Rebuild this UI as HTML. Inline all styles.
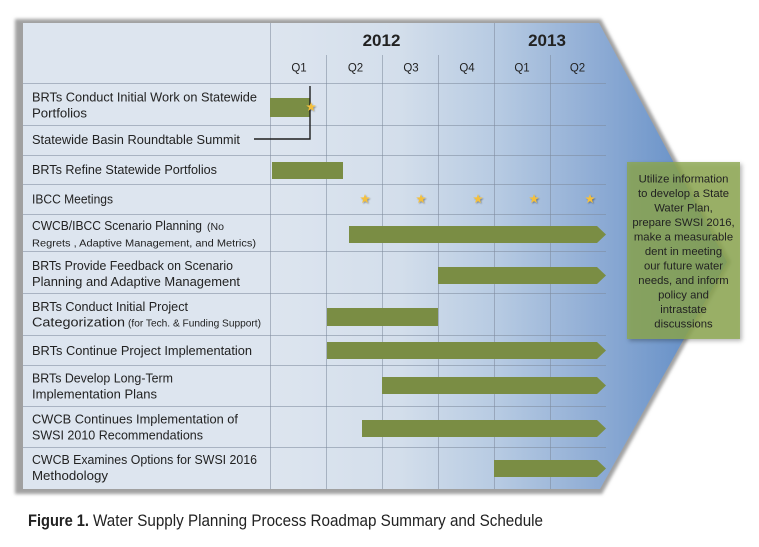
<!DOCTYPE html>
<html><head><meta charset="utf-8"><style>
html,body{margin:0;padding:0;background:#fff;}
svg{display:block;}
text{font-family:"Liberation Sans",sans-serif;fill:#222;}
</style></head><body>
<svg width="759" height="547" viewBox="0 0 759 547" xmlns="http://www.w3.org/2000/svg">
<defs>
<linearGradient id="bg" gradientUnits="userSpaceOnUse" x1="23" y1="0" x2="728" y2="0">
<stop offset="0" stop-color="#dde5ef"/>
<stop offset="0.35" stop-color="#dde5ef"/>
<stop offset="0.534" stop-color="#d3deeb"/>
<stop offset="0.676" stop-color="#b6cae2"/>
<stop offset="0.818" stop-color="#8dabd4"/>
<stop offset="1" stop-color="#5685c2"/>
</linearGradient>
<filter id="sh" x="-10%" y="-10%" width="130%" height="130%">
<feGaussianBlur stdDeviation="1.5"/>
</filter>
<filter id="bsh" x="-20%" y="-20%" width="150%" height="150%">
<feDropShadow dx="2" dy="2" stdDeviation="2" flood-color="#000" flood-opacity="0.35"/>
</filter>
<filter id="ssh" x="-50%" y="-50%" width="200%" height="200%">
<feDropShadow dx="1" dy="1" stdDeviation="0.8" flood-color="#000" flood-opacity="0.4"/>
</filter>
<g id="star"><polygon points="0,-5 1.2,-1.6 4.8,-1.5 1.9,0.6 2.9,4 0,2 -2.9,4 -1.9,0.6 -4.8,-1.5 -1.2,-1.6" fill="#f4c03c" filter="url(#ssh)"/></g>
</defs>

<!-- outer shape border/shadow -->
<polygon points="15,19 601,19 731,262 602,494 15,494" fill="#a0a0a0" filter="url(#sh)"/>
<polygon points="23,23 599,23 727,262 600,489 23,489" fill="url(#bg)"/>

<!-- grid lines -->
<g stroke="#7d8a9c" stroke-opacity="0.55" stroke-width="1" fill="none">
<line x1="23" y1="83.5" x2="606" y2="83.5"/>
<line x1="23" y1="125.5" x2="606" y2="125.5"/>
<line x1="23" y1="155.5" x2="606" y2="155.5"/>
<line x1="23" y1="184.5" x2="606" y2="184.5"/>
<line x1="23" y1="214.5" x2="606" y2="214.5"/>
<line x1="23" y1="251.5" x2="606" y2="251.5"/>
<line x1="23" y1="293.5" x2="606" y2="293.5"/>
<line x1="23" y1="335.5" x2="606" y2="335.5"/>
<line x1="23" y1="365.5" x2="606" y2="365.5"/>
<line x1="23" y1="406.5" x2="606" y2="406.5"/>
<line x1="23" y1="447.5" x2="606" y2="447.5"/>
<line x1="270.5" y1="23" x2="270.5" y2="489"/>
<line x1="326.5" y1="55" x2="326.5" y2="489"/>
<line x1="382.5" y1="55" x2="382.5" y2="489"/>
<line x1="438.5" y1="55" x2="438.5" y2="489"/>
<line x1="494.5" y1="23" x2="494.5" y2="489"/>
<line x1="550.5" y1="55" x2="550.5" y2="489"/>
</g>

<!-- header -->
<text x="381.5" y="46" font-size="17" font-weight="bold" text-anchor="middle" fill="#1a1a1a">2012</text>
<text x="547" y="46" font-size="17" font-weight="bold" text-anchor="middle" fill="#1a1a1a">2013</text>
<g font-size="11.5" text-anchor="middle">
<text x="299" y="71.5">Q1</text>
<text x="355.5" y="71.5">Q2</text>
<text x="411" y="71.5">Q3</text>
<text x="467" y="71.5">Q4</text>
<text x="522" y="71.5">Q1</text>
<text x="577.5" y="71.5">Q2</text>
</g>

<!-- labels -->
<g font-size="13">
<text x="32" y="101.5" textLength="225" lengthAdjust="spacingAndGlyphs">BRTs Conduct Initial Work on Statewide</text>
<text x="32" y="117.5" textLength="55" lengthAdjust="spacingAndGlyphs">Portfolios</text>
<text x="32" y="144" textLength="208" lengthAdjust="spacingAndGlyphs">Statewide Basin Roundtable Summit</text>
<text x="32" y="174" textLength="185" lengthAdjust="spacingAndGlyphs">BRTs Refine Statewide Portfolios</text>
<text x="32" y="203.5" textLength="81" lengthAdjust="spacingAndGlyphs">IBCC Meetings</text>
<text x="32" y="230" textLength="170" lengthAdjust="spacingAndGlyphs">CWCB/IBCC Scenario Planning</text>
<text x="207" y="230" font-size="10" textLength="17" lengthAdjust="spacingAndGlyphs">(No</text>
<text x="32" y="246.5" font-size="10" textLength="224" lengthAdjust="spacingAndGlyphs">Regrets , Adaptive Management, and Metrics)</text>
<text x="32" y="270" textLength="201" lengthAdjust="spacingAndGlyphs">BRTs Provide Feedback on Scenario</text>
<text x="32" y="286" textLength="208" lengthAdjust="spacingAndGlyphs">Planning and Adaptive Management</text>
<text x="32" y="311" textLength="156" lengthAdjust="spacingAndGlyphs">BRTs Conduct Initial Project</text>
<text x="32" y="326.5" textLength="93" lengthAdjust="spacingAndGlyphs">Categorization</text>
<text x="128" y="326.5" font-size="10" textLength="133" lengthAdjust="spacingAndGlyphs">(for Tech. &amp; Funding Support)</text>
<text x="32" y="355" textLength="220" lengthAdjust="spacingAndGlyphs">BRTs Continue Project Implementation</text>
<text x="32" y="382.5" textLength="141" lengthAdjust="spacingAndGlyphs">BRTs Develop Long-Term</text>
<text x="32" y="398.5" textLength="125" lengthAdjust="spacingAndGlyphs">Implementation Plans</text>
<text x="32" y="423.5" textLength="206" lengthAdjust="spacingAndGlyphs">CWCB Continues Implementation of</text>
<text x="32" y="439.5" textLength="171" lengthAdjust="spacingAndGlyphs">SWSI 2010 Recommendations</text>
<text x="32" y="464" textLength="225" lengthAdjust="spacingAndGlyphs">CWCB Examines Options for SWSI 2016</text>
<text x="32" y="480" textLength="76" lengthAdjust="spacingAndGlyphs">Methodology</text>
</g>

<!-- bars -->
<g fill="#7a8d44">
<rect x="270" y="98" width="40" height="19"/>
<rect x="272" y="162" width="71" height="17"/>
<path d="M349 226 H597 L606 234.5 L597 243 H349 Z"/>
<path d="M438 267 H597 L606 275.5 L597 284 H438 Z"/>
<rect x="327" y="308" width="111" height="18"/>
<path d="M327 342 H597 L606 350.5 L597 359 H327 Z"/>
<path d="M382 377 H597 L606 385.5 L597 394 H382 Z"/>
<path d="M362 420 H597 L606 428.5 L597 437 H362 Z"/>
<path d="M494 460 H597 L606 468.5 L597 477 H494 Z"/>
</g>

<!-- summit connector -->
<polyline points="310,86 310,139 254,139" fill="none" stroke="#1e1e1e" stroke-width="1.4"/>

<!-- stars -->
<use href="#star" x="311" y="107"/>
<use href="#star" x="365" y="199"/>
<use href="#star" x="421" y="199"/>
<use href="#star" x="478" y="199"/>
<use href="#star" x="534" y="199"/>
<use href="#star" x="590" y="199"/>

<!-- green box -->
<rect x="627" y="162" width="113" height="177" fill="#8ca650" fill-opacity="0.8" filter="url(#bsh)"/>
<g font-size="11.3" text-anchor="middle" style="fill:#222b14">
<text x="683.5" y="182.5">Utilize information</text>
<text x="683.5" y="197">to develop a State</text>
<text x="683.5" y="211.5">Water Plan,</text>
<text x="683.5" y="226">prepare SWSI 2016,</text>
<text x="683.5" y="240.5">make a measurable</text>
<text x="683.5" y="255">dent in meeting</text>
<text x="683.5" y="269.5">our future water</text>
<text x="683.5" y="284">needs, and inform</text>
<text x="683.5" y="298.5">policy and</text>
<text x="683.5" y="313">intrastate</text>
<text x="683.5" y="327.5">discussions</text>
</g>

<!-- caption -->
<text x="28" y="526" font-size="16.5" font-weight="bold" fill="#000" textLength="61" lengthAdjust="spacingAndGlyphs">Figure 1.</text>
<text x="93" y="526" font-size="16.5" fill="#000" textLength="450" lengthAdjust="spacingAndGlyphs">Water Supply Planning Process Roadmap Summary and Schedule</text>
</svg>
</body></html>
